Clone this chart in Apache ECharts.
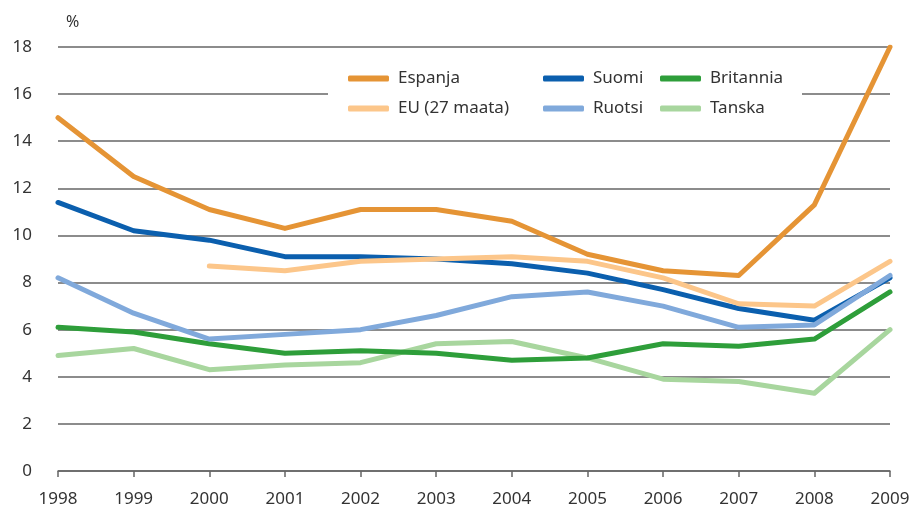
<!DOCTYPE html>
<html>
<head>
<meta charset="utf-8">
<script src="https://cdn.jsdelivr.net/npm/echarts@6/dist/echarts.min.js"></script>
<style>
	html,body{margin:0;padding:0;background:#fff;}
	#chart{width:910px;height:507px;}
</style>
</head>
<body>
<div id="chart"></div>
<script>
var years = ['1998','1999','2000','2001','2002','2003','2004','2005','2006','2007','2008','2009'];
var espanja = [15.0, 12.5, 11.1, 10.3, 11.1, 11.1, 10.6, 9.2, 8.5, 8.3, 11.3, 18.0];
var eu27 = [null, null, 8.7, 8.5, 8.9, 9.0, 9.1, 8.9, 8.2, 7.1, 7.0, 8.9];
var suomi = [11.4, 10.2, 9.8, 9.1, 9.1, 9.0, 8.8, 8.4, 7.7, 6.9, 6.4, 8.2];
var ruotsi = [8.2, 6.7, 5.6, 5.8, 6.0, 6.6, 7.4, 7.6, 7.0, 6.1, 6.2, 8.3];
var britannia = [6.1, 5.9, 5.4, 5.0, 5.1, 5.0, 4.7, 4.8, 5.4, 5.3, 5.6, 7.6];
var tanska = [4.9, 5.2, 4.3, 4.5, 4.6, 5.4, 5.5, 4.8, 3.9, 3.8, 3.3, 6.0];

var fontName = '"Noto Sans", "Open Sans", sans-serif';
var textColor = '#333';
var gridColor = '#666';

function makeLine(name, data, color, z){
	return {
		name: name,
		type: 'line',
		data: data,
		symbol: 'none',
		z: z,
		lineStyle: {color: color, width: 5, cap: 'round', join: 'round'},
		itemStyle: {color: color},
		emphasis: {disabled: true}
	};
}

function makeLegend(names, left){
	return {
		orient: 'vertical',
		left: left,
		top: 70,
		padding: 0,
		itemGap: 13,
		itemWidth: 41,
		itemHeight: 6,
		icon: 'roundRect',
		data: names,
		selectedMode: false,
		z: 10,
		textStyle: {fontFamily: fontName, fontSize: 17, color: textColor, padding: [0,0,0,4]}
	};
}

var myChart = echarts.init(document.getElementById('chart'));
var option = {
	animation: false,
	backgroundColor: '#fff',
	grid: {left: 58, right: 20, top: 47, bottom: 36, outerBoundsMode: 'none'},
	graphic: {
		elements: [{
			type: 'rect',
			z: 5,
			shape: {x: 328, y: 60, width: 474, height: 68},
			style: {fill: '#fff'}
		}]
	},
	legend: [
		makeLegend(['Espanja', 'EU (27 maata)'], 348),
		makeLegend(['Suomi', 'Ruotsi'], 543),
		makeLegend(['Britannia', 'Tanska'], 660)
	],
	xAxis: {
		type: 'category',
		data: years,
		boundaryGap: false,
		axisLine: {lineStyle: {color: gridColor, width: 1.5}},
		axisTick: {show: true, length: 6, lineStyle: {color: gridColor, width: 1.5}},
		axisLabel: {fontFamily: fontName, fontSize: 17, color: textColor, margin: 20}
	},
	yAxis: {
		type: 'value',
		min: 0,
		max: 18,
		interval: 2,
		name: '%',
		nameLocation: 'end',
		nameGap: 17,
		nameTextStyle: {fontFamily: fontName, fontSize: 16, color: textColor, align: 'left', padding: [0,0,0,8]},
		axisLine: {show: false},
		axisTick: {show: false},
		axisLabel: {fontFamily: fontName, fontSize: 17, color: textColor, margin: 26},
		splitLine: {lineStyle: {color: gridColor, width: 1.5}}
	},
	series: [
		makeLine('Tanska', tanska, '#a8d69e', 2),
		makeLine('Britannia', britannia, '#2e9e3a', 3),
		makeLine('Suomi', suomi, '#0b5fae', 4),
		makeLine('Ruotsi', ruotsi, '#80a9db', 5),
		makeLine('EU (27 maata)', eu27, '#fcc68a', 6),
		makeLine('Espanja', espanja, '#e59435', 7)
	]
};
myChart.setOption(option);
</script>
</body>
</html>
